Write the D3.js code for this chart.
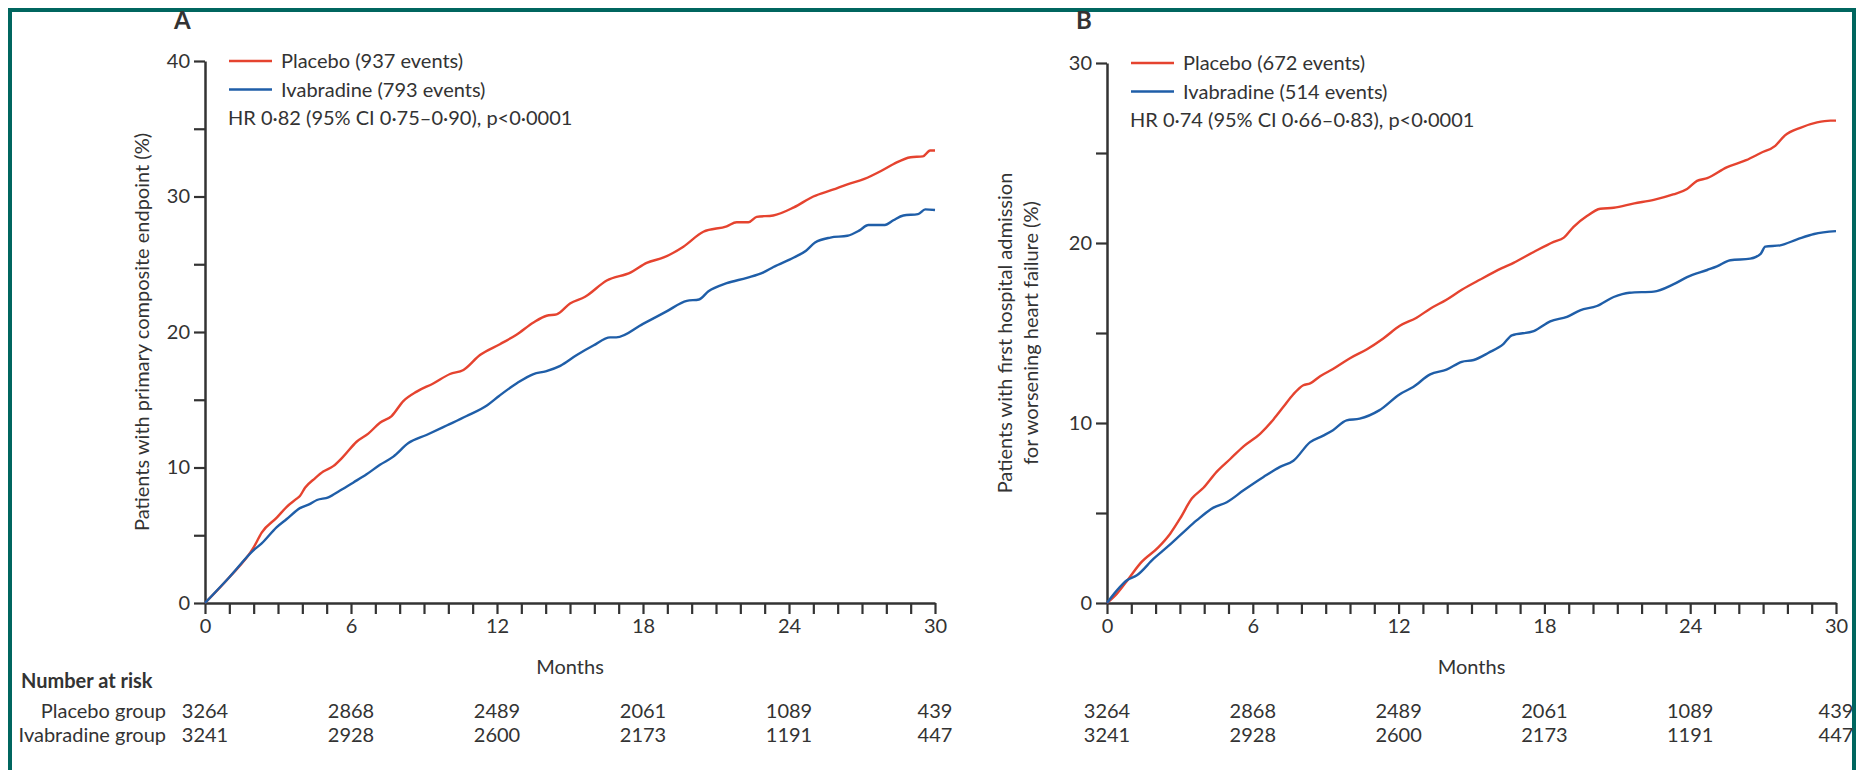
<!DOCTYPE html>
<html>
<head>
<meta charset="utf-8">
<script src="https://cdn.jsdelivr.net/npm/d3@7"></script>
<style>
  html, body { margin: 0; padding: 0; background: #fff; }
  svg text { fill: #333; }
</style>
</head>
<body>
<script>
// ---------------- DATA ----------------
const riskMonths = [0, 6, 12, 18, 24, 30];
const riskPlacebo = [3264, 2868, 2489, 2061, 1089, 439];
const riskIvabradine = [3241, 2928, 2600, 2173, 1191, 447];
const riskGroups = ["Placebo group", "Ivabradine group"];

const legendA = ["Placebo (937 events)", "Ivabradine (793 events)"];
const hrA = "HR 0·82 (95% CI 0·75–0·90), p<0·0001";
const legendB = ["Placebo (672 events)", "Ivabradine (514 events)"];
const hrB = "HR 0·74 (95% CI 0·66–0·83), p<0·0001";

const xTicks = [0, 6, 12, 18, 24, 30];
const yTicksA = [0, 10, 20, 30, 40];
const yTicksB = [0, 10, 20, 30];

// [month, cumulative %]
const placeboA = [[0,0],[1,1.9],[2,4.1],[2.33,5.2],[2.95,6.3],[3.36,7.1],[3.77,7.7],[3.9,7.9],[4.11,8.5],[4.52,9.2],[4.86,9.7],[5.27,10.1],[5.68,10.8],[6.23,11.9],[6.71,12.5],[7.19,13.3],[7.67,13.8],[8.15,14.9],[8.7,15.6],[9.38,16.2],[10.07,16.9],[10.62,17.2],[11.3,18.3],[12.12,19.1],[12.8,19.8],[13.5,20.7],[14.04,21.2],[14.45,21.3],[15.0,22.1],[15.62,22.6],[16.51,23.8],[17.5,24.4],[18.15,25.1],[18.85,25.5],[19.66,26.3],[20.48,27.4],[21.44,27.8],[21.85,28.1],[22.33,28.1],[22.67,28.5],[23.35,28.6],[24.2,29.2],[25.0,30.0],[25.8,30.5],[26.4,30.9],[27.1,31.3],[27.8,31.9],[28.3,32.4],[29.0,32.9],[29.5,32.96],[29.8,33.4],[30,33.4]];
const ivabradineA = [[0,0],[1,1.9],[2,3.9],[2.33,4.4],[2.95,5.6],[3.36,6.2],[3.9,7.0],[4.3,7.3],[4.6,7.6],[5.07,7.8],[5.55,8.3],[6.1,8.9],[6.64,9.5],[7.19,10.2],[7.74,10.8],[8.36,11.8],[9.1,12.4],[9.93,13.1],[10.75,13.8],[11.6,14.6],[12.1,15.3],[12.8,16.2],[13.5,16.9],[14.0,17.1],[14.6,17.5],[15.28,18.3],[15.96,19.0],[16.65,19.6],[16.9,19.6],[18.0,20.6],[18.95,21.5],[19.8,22.3],[20.3,22.4],[20.69,23.0],[21.44,23.6],[22.27,24.0],[22.95,24.4],[23.36,24.8],[24.2,25.5],[24.7,26.0],[25.07,26.6],[25.7,26.97],[26.4,27.1],[26.9,27.5],[27.26,27.9],[27.94,27.9],[28.29,28.25],[28.7,28.6],[29.3,28.7],[29.6,29.05],[30,29.0]];
const placeboB = [[0,0],[0.41,0.52],[0.89,1.35],[1.37,2.2],[2.12,3.1],[2.6,3.85],[3.01,4.7],[3.49,5.8],[3.97,6.4],[4.52,7.3],[5.07,8.0],[5.62,8.7],[6.3,9.4],[6.85,10.2],[7.26,10.9],[7.67,11.6],[8.08,12.1],[8.36,12.2],[8.77,12.6],[9.3,13.0],[10.0,13.6],[10.7,14.1],[11.37,14.7],[12.05,15.4],[12.74,15.85],[13.3,16.35],[13.97,16.85],[14.6,17.4],[15.36,17.97],[16.25,18.6],[16.73,18.9],[17.56,19.5],[18.38,20.06],[18.8,20.3],[19.2,20.9],[19.75,21.5],[20.3,21.9],[20.85,21.96],[21.7,22.2],[22.5,22.4],[23.3,22.7],[23.87,23.0],[24.28,23.45],[24.7,23.6],[25.5,24.2],[26.3,24.6],[26.9,25.0],[27.5,25.4],[27.9,25.98],[28.53,26.4],[29.22,26.7],[29.77,26.8],[30,26.8]];
const ivabradineB = [[0,0],[0.41,0.7],[0.82,1.26],[1.23,1.54],[1.92,2.46],[2.47,3.1],[3.15,3.94],[3.7,4.6],[4.38,5.3],[4.93,5.6],[5.62,6.26],[6.44,7.0],[7.12,7.56],[7.67,7.9],[8.36,8.94],[8.9,9.3],[9.3,9.6],[9.86,10.15],[10.4,10.24],[11.2,10.7],[12.05,11.6],[12.6,12.0],[13.3,12.7],[13.97,12.96],[14.6,13.4],[15.09,13.5],[15.7,13.9],[16.32,14.4],[16.66,14.87],[17.56,15.1],[18.24,15.65],[18.93,15.9],[19.47,16.26],[20.16,16.5],[20.85,17.0],[21.5,17.24],[22.5,17.3],[23.3,17.7],[23.87,18.1],[24.7,18.5],[25.1,18.7],[25.65,19.04],[26.47,19.13],[26.9,19.4],[27.09,19.8],[27.7,19.87],[28.4,20.2],[29.1,20.5],[30,20.66]];

// ---------------- STYLE ----------------
const RED = "#e5432f", BLUE = "#1f5ea8", AXIS = "#333", BORDER = "#00665f";
const FONT = "Lato, 'Open Sans', sans-serif";
const FS = 19;

const W = 1859, H = 770;
const svg = d3.select("body").append("svg")
  .attr("width", W).attr("height", H)
  .style("font-family", FONT);

// Border (left, top, right)
svg.append("path")
  .attr("d", `M10,${H} V10 H1854 V${H}`)
  .attr("fill", "none").attr("stroke", BORDER).attr("stroke-width", 4);

function panel(cfg) {
  const g = svg.append("g");
  const x = d3.scaleLinear().domain([0, 30]).range([cfg.x0, cfg.x1]);
  const y = d3.scaleLinear().domain([0, cfg.ymax]).range([603, cfg.ytop]);

  // y axis
  const ya = g.append("g").attr("transform", `translate(${cfg.x0},0)`)
    .call(d3.axisLeft(y).tickValues(d3.range(0, cfg.ymax + 1, 5))
      .tickFormat(d => cfg.yTicks.includes(d) ? d : "")
      .tickSize(11).tickSizeOuter(0).tickPadding(4));
  // x axis
  const xa = g.append("g").attr("transform", `translate(0,603)`)
    .call(d3.axisBottom(x).tickValues(d3.range(0, 31, 1))
      .tickFormat(d => xTicks.includes(d) ? d : "")
      .tickSize(11).tickSizeOuter(0).tickPadding(5));
  [ya, xa].forEach(a => {
    a.select(".domain").attr("stroke", AXIS).attr("stroke-width", 2.5);
    a.selectAll(".tick line").attr("stroke", AXIS).attr("stroke-width", 2.2);
    a.selectAll(".tick text").attr("font-size", FS + 1).attr("font-family", FONT).style("fill", "#333");
  });

  // curves
  const line = d3.line().x(d => x(d[0])).y(d => y(d[1])).curve(d3.curveMonotoneX);
  g.append("path").datum(cfg.placebo).attr("d", line)
    .attr("fill", "none").attr("stroke", RED).attr("stroke-width", 2.4);
  g.append("path").datum(cfg.ivabradine).attr("d", line)
    .attr("fill", "none").attr("stroke", BLUE).attr("stroke-width", 2.4);

  // panel letter
  g.append("text").attr("x", cfg.x0 - 31).attr("y", 29)
    .attr("font-size", 24).attr("font-weight", "bold").text(cfg.letter);

  // legend
  const ly = [y(cfg.ymax), y(cfg.ymax) + 28.5];
  [RED, BLUE].forEach((c, i) => {
    g.append("line").attr("x1", cfg.x0 + 24).attr("x2", cfg.x0 + 67)
      .attr("y1", ly[i]).attr("y2", ly[i]).attr("stroke", c).attr("stroke-width", 2.4);
    g.append("text").attr("x", cfg.x0 + 76).attr("y", ly[i] + 7)
      .attr("font-size", FS + 1).text(cfg.legend[i]);
  });
  g.append("text").attr("x", cfg.x0 + 23).attr("y", ly[0] + 57 + 7)
    .attr("font-size", FS + 1).text(cfg.hr);

  // y label
  const ymid = (603 + cfg.ytop) / 2;
  cfg.ylabel.forEach((t, i) => {
    g.append("text")
      .attr("transform", `translate(${cfg.ylabelX[i]},${ymid}) rotate(-90)`)
      .attr("text-anchor", "middle").attr("dy", "0.35em")
      .attr("font-size", FS + 1).text(t);
  });

  // x label
  g.append("text").attr("x", (cfg.x0 + cfg.x1) / 2).attr("y", 674)
    .attr("text-anchor", "middle").attr("font-size", FS + 1).text("Months");

  // number at risk
  [riskPlacebo, riskIvabradine].forEach((arr, r) => {
    g.selectAll(null).data(riskMonths).enter().append("text")
      .attr("x", d => x(d)).attr("y", [718, 742][r])
      .attr("text-anchor", "middle").attr("font-size", FS + 1)
      .text((d, i) => arr[i]);
  });
}

panel({
  letter: "A", x0: 205, x1: 935, ymax: 40, ytop: 61, yTicks: yTicksA,
  placebo: placeboA, ivabradine: ivabradineA, legend: legendA, hr: hrA,
  ylabel: ["Patients with primary composite endpoint (%)"], ylabelX: [142]
});
panel({
  letter: "B", x0: 1107, x1: 1836, ymax: 30, ytop: 63, yTicks: yTicksB,
  placebo: placeboB, ivabradine: ivabradineB, legend: legendB, hr: hrB,
  ylabel: ["Patients with first hospital admission", "for worsening heart failure (%)"], ylabelX: [1005, 1031]
});

// Number at risk header + group labels
svg.append("text").attr("x", 21).attr("y", 688)
  .attr("font-size", FS + 1).attr("font-weight", "bold").text("Number at risk");
riskGroups.forEach((t, i) => {
  svg.append("text").attr("x", 166).attr("y", [718, 742][i])
    .attr("text-anchor", "end").attr("font-size", FS + 1).text(t);
});
</script>
</body>
</html>
